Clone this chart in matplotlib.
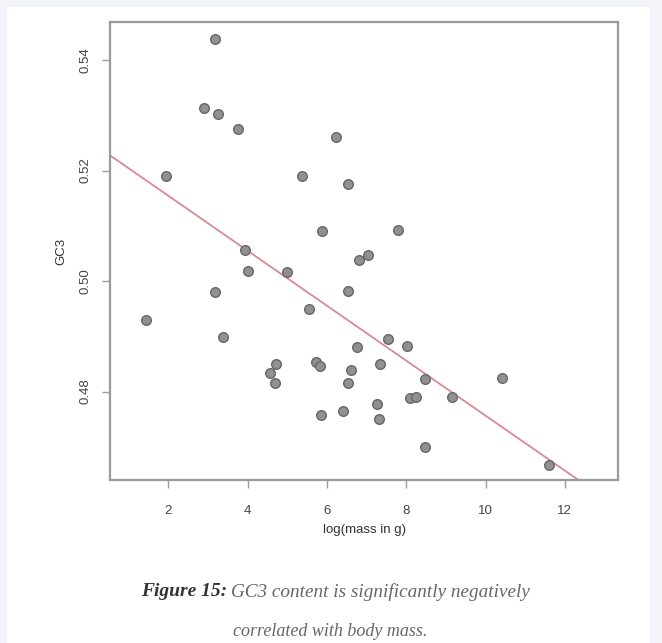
import matplotlib
matplotlib.use("Agg")
import numpy as np
import matplotlib.pyplot as plt
from matplotlib.patches import Rectangle

# log body mass (g) and GC3 content
log_mass = [3.19, 2.90, 3.26, 3.76, 6.23, 1.94, 5.36, 6.54, 5.87, 7.78,
            3.93, 7.04, 6.81, 4.02, 4.99, 3.17, 5.54, 1.45, 3.37, 6.54,
            7.55, 8.03, 6.77, 4.72, 4.56, 4.70, 5.72, 5.83, 7.34, 6.60,
            6.54, 8.48, 10.42, 8.10, 8.24, 9.16, 7.26, 6.41, 5.86, 7.31,
            8.48, 11.61]
gc3 = [0.5439, 0.5314, 0.5303, 0.5276, 0.5260, 0.5190, 0.5191, 0.5175, 0.5090, 0.5093,
       0.5056, 0.5047, 0.5038, 0.5018, 0.5016, 0.4980, 0.4950, 0.4930, 0.4898, 0.4982,
       0.4895, 0.4883, 0.4880, 0.4850, 0.4833, 0.4815, 0.4853, 0.4847, 0.4850, 0.4839,
       0.4815, 0.4823, 0.4825, 0.4788, 0.4791, 0.4791, 0.4777, 0.4765, 0.4758, 0.4750,
       0.4700, 0.4668]

# fitted regression line
fit_intercept = 0.5254
fit_slope = -0.004975

x_ticks = [2, 4, 6, 8, 10, 12]
y_ticks = [0.48, 0.50, 0.52, 0.54]

plt.rcParams['font.family'] = ['Liberation Sans', 'DejaVu Sans']

W, H = 662, 643
fig = plt.figure(figsize=(W / 100, H / 100), dpi=100)
fig.patch.set_facecolor("#f3f3fa")
fig.patches.append(Rectangle((7 / W, 0), (650 - 7) / W, (H - 7) / H,
                             transform=fig.transFigure, facecolor="white",
                             edgecolor="none", zorder=-10))

ax = fig.add_axes([110 / W, 1 - 480 / H, (618 - 110) / W, (480 - 22) / H])
ax.set_facecolor("white")

ax.scatter(log_mass, gc3, s=48, facecolor="#909090", edgecolor="#666666",
           linewidth=1.0, zorder=3)

xs = np.array([0.0, 14.0])
ax.plot(xs, fit_intercept + fit_slope * xs, color="#d88a94", lw=1.3, zorder=2)

ax.set_xlim(0.53, 13.34)
ax.set_ylim(0.4640, 0.5469)

ax.set_xticks(x_ticks)
ax.set_xticklabels([str(t) for t in x_ticks])
ax.set_yticks(y_ticks)
ax.set_yticklabels(["%.2f" % t for t in y_ticks], rotation=90, va="center")

for s in ax.spines.values():
    s.set_color("#9a9a9a")
    s.set_linewidth(1.6)
ax.tick_params(colors="#444444", labelsize=9.5, length=6, width=1.0,
               color="#9a9a9a")
ax.tick_params(axis="x", pad=12)
ax.tick_params(axis="y", pad=7)

ax.set_xlabel("log(mass in g)", fontsize=9.5, color="#333333", labelpad=5)
ax.set_ylabel("GC3", fontsize=9.5, color="#333333", labelpad=9)

# caption below the chart
fig.text(141 / W, 1 - 592 / H, "Figure 15:", family="Liberation Serif",
         style="italic", weight="bold", fontsize=14, color="#333333",
         va="center", ha="left")
fig.text(231 / W, 1 - 592 / H, "GC3 content is significantly negatively",
         family="Liberation Serif", style="italic", fontsize=13.8,
         color="#666666", va="center", ha="left")
fig.text(330 / W, 1 - 631 / H, "correlated with body mass.",
         family="Liberation Serif", style="italic", fontsize=13,
         color="#666666", va="center", ha="center")

fig.savefig("out.png", dpi=100, facecolor=fig.get_facecolor())
